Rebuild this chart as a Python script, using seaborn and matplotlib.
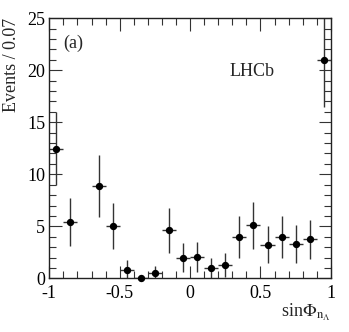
import numpy as np
import pandas as pd
import matplotlib
matplotlib.use("Agg")
import matplotlib.pyplot as plt
import seaborn as sns
from matplotlib.ticker import MultipleLocator

# datos (centros de bin, eventos y errores)
centros = [-0.95, -0.85, -0.65, -0.55, -0.45, -0.35, -0.25, -0.15, -0.05, 0.05,
           0.15, 0.25, 0.35, 0.45, 0.55, 0.65, 0.75, 0.85, 0.95]
eventos = [12.45, 5.45, 8.9, 5.0, 0.8, 0.06, 0.5, 4.6, 2.0, 2.05,
           1.0, 1.25, 3.95, 5.1, 3.25, 3.95, 3.3, 3.75, 21.0]
err_sup = [3.5, 2.3, 3.0, 2.2, 0.95, 0.1, 0.68, 2.15, 1.4, 1.45,
           1.0, 1.15, 2.0, 2.2, 1.8, 2.0, 1.8, 1.9, 4.55]
err_inf = [3.5, 2.3, 3.0, 2.2, 0.8, 0.06, 0.45, 2.15, 1.4, 1.45,
           1.0, 1.15, 2.0, 2.3, 1.8, 2.0, 1.85, 1.9, 4.55]
ancho_bin = 0.1

df = pd.DataFrame({"x": centros, "y": eventos})

sns.set_style("ticks")
plt.rcParams["font.family"] = ["Liberation Serif", "DejaVu Serif"]
plt.rcParams["mathtext.fontset"] = "stix"

fig = plt.figure(figsize=(3.49, 3.32), dpi=100)
ax = fig.add_axes([0.1413, 0.1617, 0.8067, 0.7833])

ax.errorbar(df["x"], df["y"], yerr=[err_inf, err_sup], xerr=ancho_bin / 2,
            fmt="none", ecolor="#333333", elinewidth=1.0, capsize=0, zorder=2)
sns.scatterplot(data=df, x="x", y="y", color="black", s=28, edgecolor="black",
                linewidth=0, ax=ax, zorder=3, clip_on=False)

ax.set_xlim(-1, 1)
ax.set_ylim(0, 25)
ax.xaxis.set_major_locator(MultipleLocator(0.5))
ax.xaxis.set_minor_locator(MultipleLocator(0.1))
ax.yaxis.set_major_locator(MultipleLocator(5))
ax.yaxis.set_minor_locator(MultipleLocator(1))
ax.set_xticks([-1, -0.5, 0, 0.5, 1])
ax.set_xticklabels(["-1", "-0.5", "0", "0.5", "1"])

for s in ax.spines.values():
    s.set_visible(True)
    s.set_color("#222222")
    s.set_linewidth(1.0)

ax.tick_params(which="both", direction="in", top=True, right=True,
               color="#333333", labelsize=13, labelcolor="black")
ax.tick_params(which="major", length=9, width=0.8, pad=5)
ax.tick_params(which="minor", length=5, width=0.8)
ax.tick_params(axis="y", which="major", pad=3)

ax.set_xlabel(r"sin$\Phi_{\mathrm{n}_{\Lambda}}$", fontsize=13, loc="right", labelpad=0)
ax.set_ylabel("Events / 0.07", fontsize=13, loc="top")
ax.yaxis.set_label_coords(-0.103, 1.0)

ax.text(0.085, 0.905, "(a)", transform=ax.transAxes, fontsize=13, ha="center", va="center")
ax.text(0.72, 0.795, "LHCb", transform=ax.transAxes, fontsize=13, ha="center", va="center")

fig.savefig("out.png", dpi=100)
